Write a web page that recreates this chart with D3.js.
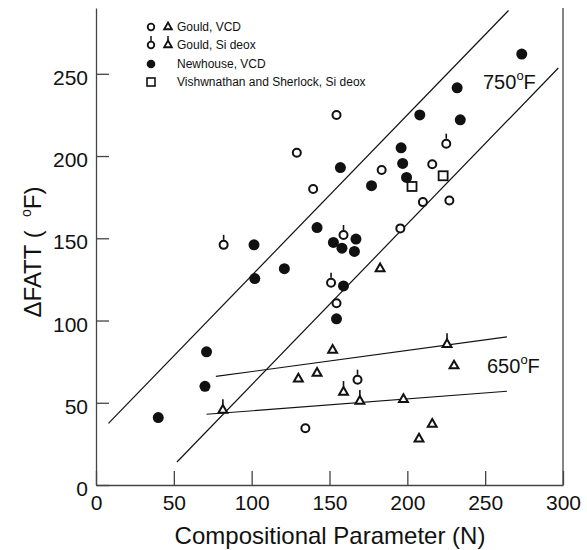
<!DOCTYPE html>
<html>
<head>
<meta charset="utf-8">
<script src="https://cdn.jsdelivr.net/npm/d3@7"></script>
<style>
  body { margin: 0; background: #fff; }
  text { font-family: "Liberation Sans", Arial, sans-serif; fill: #111; }
  .axis path, .axis line { stroke: #444; stroke-width: 1.3px; }
  .axis text { font-size: 21px; fill: #111; }
  .fit { stroke: #111; stroke-width: 1.2px; fill: none; }
</style>
</head>
<body>
<div id="chart"></div>
<script>
// Newhouse, VCD (filled circles) [N, dFATT]
const newhouseN   = [40, 70, 71, 101.5, 102, 121, 142, 152.5, 154.5, 157, 158, 159, 166, 167, 177, 196, 197, 199.5, 208, 232, 234, 273.5];
const newhouseVal = [41, 60, 81, 146, 125.5, 131.5, 156.5, 147.5, 101, 193, 144, 121, 142, 149.5, 182, 205, 195.5, 187, 225, 241.5, 222, 262];

// Gould, VCD
const gouldVcdCircN   = [129, 139.5, 154.5, 154.5, 183.5, 195.5, 210, 216, 227, 134.5];
const gouldVcdCircVal = [202, 180, 225, 110.5, 191.5, 156, 172, 195, 173, 34.5];
const gouldVcdTriN    = [182.5, 152, 230, 130, 142, 197.5, 216, 207.5];
const gouldVcdTriVal  = [131.5, 82, 72.5, 64.5, 68, 52, 37, 28];

// Gould, Si deox
const gouldSiCircN   = [82, 159, 151, 225, 168];
const gouldSiCircVal = [146, 152, 123, 207.5, 64];
const gouldSiTriN    = [81.5, 225.5, 159, 169.5];
const gouldSiTriVal  = [45.5, 85.5, 56.5, 51];

// Vishwnathan and Sherlock, Si deox (squares)
const vishN   = [203, 223];
const vishVal = [181.5, 188];

// fitted lines, endpoints [N, dFATT]
const line750a = [[8, 37.5], [265, 288.5]];
const line750b = [[52, 14], [297, 253.5]];
const line650a = [[77, 66], [264, 90]];
const line650b = [[71, 43], [264, 57]];

const xTicks = [0, 50, 100, 150, 200, 250, 300];
const yTicks = [0, 50, 100, 150, 200, 250];

const legendLabels = ["Gould, VCD", "Gould, Si deox", "Newhouse, VCD", "Vishwnathan and Sherlock, Si deox"];

const W = 587, H = 550;
const plot = {left: 96, right: 563, top: 8, bottom: 485};

const svg = d3.select("#chart").append("svg")
    .attr("width", W)
    .attr("height", H);

const x = d3.scaleLinear().domain([0, 300]).range([plot.left, plot.right]);
const y = d3.scaleLinear().domain([0, 290]).range([plot.bottom, plot.top]);

// axes with inward ticks
svg.append("g")
    .attr("class", "axis")
    .attr("transform", "translate(0," + plot.bottom + ")")
    .call(d3.axisBottom(x).tickValues(xTicks).tickSizeInner(-14).tickSizeOuter(0).tickPadding(10));

svg.append("g")
    .attr("class", "axis")
    .attr("transform", "translate(" + plot.left + ",0)")
    .call(d3.axisLeft(y).tickValues(yTicks).tickSizeInner(-13).tickSizeOuter(0).tickPadding(8))
  .selectAll("text")
    .attr("dy", "0.5em");

// right border
svg.append("line")
    .attr("x1", plot.right).attr("x2", plot.right)
    .attr("y1", plot.top).attr("y2", plot.bottom)
    .attr("stroke", "#444").attr("stroke-width", 1.3);

// axis titles
svg.append("text")
    .attr("x", 330)
    .attr("y", 544)
    .attr("text-anchor", "middle")
    .style("font-size", "24px")
    .text("Compositional Parameter (N)");

const yTitle = svg.append("text")
    .attr("transform", "translate(41,252) rotate(-90)")
    .attr("text-anchor", "middle")
    .style("font-size", "24px");
yTitle.append("tspan").text("\u0394FATT (\u00a0\u00a0");
yTitle.append("tspan").style("font-size", "14px").attr("dy", "-10").text("o");
yTitle.append("tspan").attr("dy", "10").text("F)");

// fitted lines
const lineGen = d3.line().x(d => x(d[0])).y(d => y(d[1]));
[line750a, line750b, line650a, line650b].forEach(l => {
    svg.append("path").attr("class", "fit").attr("d", lineGen(l));
});

// temperature labels
function tempLabel(px, py, t) {
    const lbl = svg.append("text")
        .attr("x", px).attr("y", py)
        .style("font-size", "20px");
    lbl.append("tspan").text(t);
    lbl.append("tspan").style("font-size", "13px").attr("dy", "-9").text("o");
    lbl.append("tspan").attr("dy", "9").text("F");
}
tempLabel(483, 89, "750");
tempLabel(487, 373, "650");

const triPath = d3.symbol().type(d3.symbolTriangle).size(34);

function zip(a, b) { return a.map((v, i) => [v, b[i]]); }

function drawCircles(pts, tick, r) {
    const g = svg.append("g");
    g.selectAll("circle").data(pts).enter().append("circle")
        .attr("cx", d => x(d[0])).attr("cy", d => y(d[1]))
        .attr("r", r)
        .attr("fill", "#fff").attr("stroke", "#111").attr("stroke-width", 2);
    if (tick) {
        g.selectAll("line").data(pts).enter().append("line")
            .attr("x1", d => x(d[0])).attr("x2", d => x(d[0]))
            .attr("y1", d => y(d[1]) - r - 1).attr("y2", d => y(d[1]) - r - 6)
            .attr("stroke", "#111").attr("stroke-width", 1.6);
    }
}

function drawTriangles(pts, tick) {
    const g = svg.append("g");
    g.selectAll("path").data(pts).enter().append("path")
        .attr("d", triPath)
        .attr("transform", d => "translate(" + x(d[0]) + "," + y(d[1]) + ")")
        .attr("fill", "#fff").attr("stroke", "#111").attr("stroke-width", 2)
        .attr("stroke-linejoin", "miter");
    if (tick) {
        g.selectAll("line").data(pts).enter().append("line")
            .attr("x1", d => x(d[0])).attr("x2", d => x(d[0]))
            .attr("y1", d => y(d[1]) - 5).attr("y2", d => y(d[1]) - 11)
            .attr("stroke", "#111").attr("stroke-width", 1.6);
    }
}

// data points
drawCircles(zip(gouldVcdCircN, gouldVcdCircVal), false, 4);
drawCircles(zip(gouldSiCircN, gouldSiCircVal), true, 4);
drawTriangles(zip(gouldVcdTriN, gouldVcdTriVal), false);
drawTriangles(zip(gouldSiTriN, gouldSiTriVal), true);

svg.append("g").selectAll("rect").data(zip(vishN, vishVal)).enter().append("rect")
    .attr("x", d => x(d[0]) - 4.5).attr("y", d => y(d[1]) - 4.5)
    .attr("width", 9).attr("height", 9)
    .attr("fill", "#fff").attr("stroke", "#111").attr("stroke-width", 1.8);

svg.append("g").selectAll("circle").data(zip(newhouseN, newhouseVal)).enter().append("circle")
    .attr("cx", d => x(d[0])).attr("cy", d => y(d[1]))
    .attr("r", 5.5)
    .attr("fill", "#111");

// legend
const legend = svg.append("g");
const rowY = [27, 45, 64, 82];
const symX = 151, triX = 168, textX = 177;

legend.selectAll("text").data(legendLabels).enter().append("text")
    .attr("x", textX)
    .attr("y", (d, i) => rowY[i] + 4)
    .style("font-size", "12px")
    .text(d => d);

[0, 1].forEach(i => {
    legend.append("circle").attr("cx", symX).attr("cy", rowY[i]).attr("r", 3.3)
        .attr("fill", "none").attr("stroke", "#111").attr("stroke-width", 1.8);
    legend.append("path").attr("d", d3.symbol().type(d3.symbolTriangle).size(26))
        .attr("transform", "translate(" + triX + "," + rowY[i] + ")")
        .attr("fill", "none").attr("stroke", "#111").attr("stroke-width", 1.8);
});
// Si deox ticks in legend
[symX, triX].forEach(px => {
    legend.append("line")
        .attr("x1", px).attr("x2", px)
        .attr("y1", rowY[1] - 4).attr("y2", rowY[1] - 9)
        .attr("stroke", "#111").attr("stroke-width", 1.5);
});
legend.append("circle").attr("cx", symX).attr("cy", rowY[2]).attr("r", 4.3).attr("fill", "#111");
legend.append("rect").attr("x", symX - 4).attr("y", rowY[3] - 4).attr("width", 8).attr("height", 8)
    .attr("fill", "none").attr("stroke", "#111").attr("stroke-width", 1.6);
</script>
</body>
</html>
